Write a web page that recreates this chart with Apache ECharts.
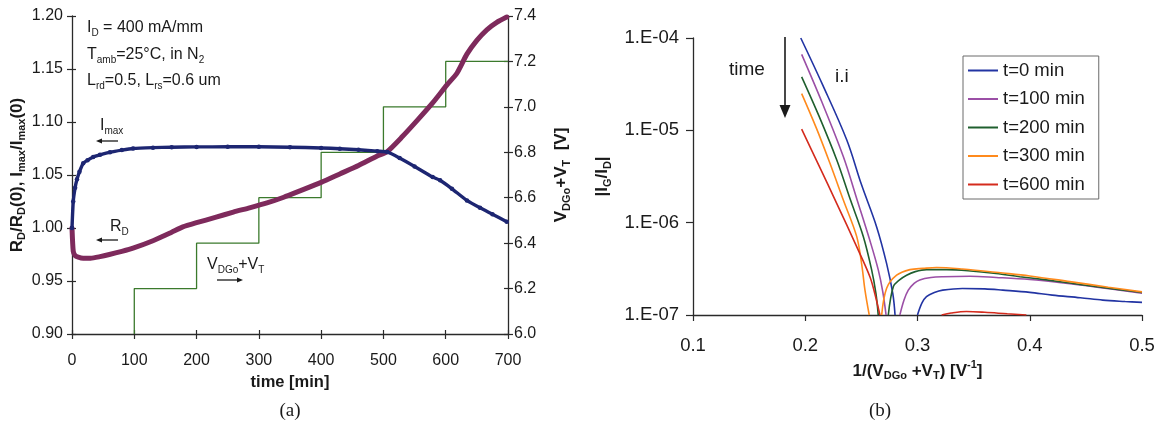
<!DOCTYPE html>
<html>
<head>
<meta charset="utf-8">
<script src="https://cdn.jsdelivr.net/npm/echarts@6/dist/echarts.min.js"></script>
<style>
  html, body { margin: 0; padding: 0; background: #fff; }
  #c { width: 1171px; height: 435px; }
</style>
</head>
<body>
<div id="c"></div>
<script>
// ---------- (a) stress test: normalised R_D and I_max versus time ----------
const imaxTime  = [0, 2, 5, 8, 12, 18, 25, 34, 45, 61, 80, 98, 130, 160, 200, 250, 300, 350, 400, 430, 460, 490, 506, 526, 550, 579, 591, 610, 634, 655, 675, 698];
const imaxRatio = [1.000, 1.025, 1.038, 1.046, 1.053, 1.061, 1.064, 1.067, 1.069, 1.0715, 1.0735, 1.075, 1.0758, 1.0762, 1.0765, 1.0766, 1.0766, 1.0762, 1.0755, 1.0748, 1.0738, 1.0725, 1.0717, 1.066, 1.058, 1.048, 1.045, 1.037, 1.026, 1.019, 1.013, 1.006];

const rdTime  = [0, 2, 5, 10, 18, 30, 45, 60, 80, 98, 130, 160, 178, 200, 230, 259, 285, 313, 340, 366, 400, 430, 460, 490, 506, 530, 555, 579, 602, 618, 634, 650, 666, 682, 698];
const rdRatio = [1.000, 0.978, 0.974, 0.9725, 0.9715, 0.9715, 0.973, 0.975, 0.978, 0.981, 0.988, 0.996, 1.001, 1.005, 1.010, 1.015, 1.019, 1.0236, 1.029, 1.035, 1.043, 1.051, 1.059, 1.068, 1.072, 1.086, 1.102, 1.118, 1.135, 1.146, 1.164, 1.177, 1.187, 1.194, 1.199];

// stepped gate-drain voltage: each level is reached at the listed time and held until the next one
const stepTime = [100, 200, 300, 400, 500, 600, 700];
const stepVolt = [6.0, 6.2, 6.4, 6.6, 6.8, 7.0, 7.2];

// ---------- (b) |I_G/I_D| versus 1/(V_DGo+V_T); null separates the two branches ----------
const t0X = [0.196, 0.215, 0.237, 0.250, 0.2636, 0.2725, 0.278, 0.280, null, 0.300, 0.304, 0.308, 0.315, 0.3225, 0.340, 0.360, 0.376, 0.400, 0.420, 0.445, 0.465, 0.485, 0.500];
const t0Y = [1.0e-4, 3.2e-5, 7.85e-6, 2.6e-6, 9.0e-7, 3.6e-7, 1.7e-7, 1.0e-7, null, 1.0e-7, 1.35e-7, 1.58e-7, 1.75e-7, 1.86e-7, 1.94e-7, 1.92e-7, 1.86e-7, 1.76e-7, 1.64e-7, 1.54e-7, 1.45e-7, 1.40e-7, 1.37e-7];

const t100X = [0.1968, 0.215, 0.2339, 0.2465, 0.2576, 0.265, 0.269, 0.272, null, 0.2843, 0.288, 0.2918, 0.297, 0.302, 0.312, 0.3227, 0.3467, 0.370, 0.400, 0.430, 0.460, 0.500];
const t100Y = [6.65e-5, 2.0e-5, 5.2e-6, 1.72e-6, 6.4e-7, 3.1e-7, 1.8e-7, 1.0e-7, null, 1.0e-7, 1.45e-7, 1.86e-7, 2.2e-7, 2.4e-7, 2.55e-7, 2.6e-7, 2.63e-7, 2.55e-7, 2.42e-7, 2.22e-7, 2.0e-7, 1.72e-7];

const t200X = [0.1968, 0.212, 0.228, 0.240, 0.2517, 0.2591, 0.263, 0.265, null, 0.274, 0.2785, 0.284, 0.2903, 0.298, 0.308, 0.326, 0.345, 0.370, 0.391, 0.415, 0.4357, 0.460, 0.480, 0.500];
const t200Y = [3.8e-5, 1.45e-5, 4.8e-6, 1.8e-6, 7.1e-7, 3.1e-7, 1.7e-7, 1.0e-7, null, 1.0e-7, 2.03e-7, 2.4e-7, 2.7e-7, 2.95e-7, 3.1e-7, 3.1e-7, 3.02e-7, 2.82e-7, 2.6e-7, 2.4e-7, 2.22e-7, 2.02e-7, 1.88e-7, 1.75e-7];

const t300X = [0.1968, 0.210, 0.222, 0.234, 0.2458, 0.2502, 0.2532, 0.257, null, 0.2681, 0.2725, 0.2814, 0.2933, 0.305, 0.317, 0.340, 0.376, 0.400, 0.4357, 0.470, 0.500];
const t300Y = [2.5e-5, 1.05e-5, 4.4e-6, 1.75e-6, 7.1e-7, 3.6e-7, 1.86e-7, 1.0e-7, null, 1.0e-7, 1.95e-7, 2.7e-7, 3.1e-7, 3.2e-7, 3.27e-7, 3.15e-7, 2.85e-7, 2.65e-7, 2.3e-7, 2.0e-7, 1.78e-7];

const t600X = [0.1968, 0.212, 0.228, 0.2458, 0.2576, 0.262, 0.2665, null, 0.3215, 0.330, 0.3436, 0.360, 0.380, 0.397];
const t600Y = [1.03e-5, 4.2e-6, 1.62e-6, 5.5e-7, 2.6e-7, 1.7e-7, 1.0e-7, null, 1.0e-7, 1.05e-7, 1.09e-7, 1.07e-7, 1.03e-7, 1.0e-7];

const curveNames = ['t=0 min', 't=100 min', 't=200 min', 't=300 min', 't=600 min'];
const xTicksA = [0, 700, 100];
const yTicksLeft = [0.90, 1.20, 0.05];
const yTicksRight = [6.0, 7.4, 0.2];
const xTicksB = [0.1, 0.5, 0.1];
const yLogRange = [1e-7, 1e-4];

// ---------- helpers ----------
const FONT = '"Liberation Sans", Arial, sans-serif';
const INK = '#1a1a1a';
const AXIS = '#2a2a2a';

function pairs(xs, ys) {
  return xs.map((x, i) => (ys[i] === null || x === null) ? ['-', '-'] : [x, ys[i]]);
}

function richSet(size, weight) {
  return {
    n: { fontSize: size, fontFamily: FONT, fontWeight: weight, color: INK, lineHeight: Math.round(size * 1.3), verticalAlign: 'middle' },
    s: { fontSize: Math.round(size * 0.64), fontFamily: FONT, fontWeight: weight, color: INK, lineHeight: Math.round(size * 0.64), verticalAlign: 'bottom' },
    u: { fontSize: Math.round(size * 0.64), fontFamily: FONT, fontWeight: weight, color: INK, lineHeight: Math.round(size * 0.64), verticalAlign: 'top' }
  };
}

function label(text, x, y, size, weight, extra) {
  return Object.assign({
    type: 'text', x: x, y: y, silent: true,
    style: { text: text, rich: richSet(size, weight || 'normal'), align: 'left', verticalAlign: 'middle', fill: INK }
  }, extra || {});
}

function arrow(x1, y1, x2, y2, head, width) {
  const a = Math.atan2(y2 - y1, x2 - x1);
  const bx = x2 - head * Math.cos(a), by = y2 - head * Math.sin(a);
  const px = -Math.sin(a) * head * 0.42, py = Math.cos(a) * head * 0.42;
  return [
    { type: 'line', silent: true, shape: { x1: x1, y1: y1, x2: bx, y2: by }, style: { stroke: INK, lineWidth: width } },
    { type: 'polygon', silent: true, shape: { points: [[x2, y2], [bx + px, by + py], [bx - px, by - py]] }, style: { fill: INK } }
  ];
}

const tickLabelA = { fontFamily: FONT, fontSize: 16, color: INK };
const tickLabelB = { fontFamily: FONT, fontSize: 18.5, color: INK };
const axisLine = { show: true, onZero: false, lineStyle: { color: AXIS, width: 1.3 } };

function innerTicks(base) {
  // companion axis drawing the inward half of the crossing tick marks
  return Object.assign({
    axisLine: { show: false, onZero: false }, axisLabel: { show: false }, splitLine: { show: false },
    axisTick: { show: true, inside: true, length: 4, lineStyle: { color: AXIS, width: 1.2 } }
  }, base);
}

const chart = echarts.init(document.getElementById('c'), null, { renderer: 'canvas' });

const option = {
  backgroundColor: '#ffffff',
  animation: false,
  grid: [
    { left: 72, top: 16, width: 436, height: 318 },
    { left: 693, top: 38, width: 449, height: 277 }
  ],
  legend: {
    data: curveNames,
    orient: 'vertical',
    left: 963, top: 56,
    padding: [5, 14, 5, 5],
    itemWidth: 30, itemHeight: 2, itemGap: 9.5,
    icon: 'rect',
    borderColor: '#6a6a6a', borderWidth: 1,
    textStyle: { fontFamily: FONT, fontSize: 18.5, color: INK, lineHeight: 19 }
  },
  xAxis: [
    {
      gridIndex: 0, type: 'value', position: 'bottom', min: xTicksA[0], max: xTicksA[1], interval: xTicksA[2],
      axisLine: axisLine,
      axisTick: { show: true, length: 5, lineStyle: { color: AXIS, width: 1.2 } },
      axisLabel: Object.assign({ margin: 19 }, tickLabelA),
      splitLine: { show: false },
      name: 'time [min]', nameLocation: 'middle', nameGap: 39,
      nameTextStyle: { fontFamily: FONT, fontSize: 16.5, fontWeight: 'bold', color: INK }
    },
    {
      gridIndex: 1, type: 'value', position: 'bottom', min: xTicksB[0], max: xTicksB[1], interval: xTicksB[2],
      axisLine: axisLine,
      axisTick: { show: true, length: 6, lineStyle: { color: AXIS, width: 1.2 } },
      axisLabel: Object.assign({ margin: 21, formatter: v => v.toFixed(1) }, tickLabelB),
      splitLine: { show: false },
      name: '{n|1/(V}{s|DGo}{n| +V}{s|T}{n|) [V}{u|-1}{n|]}', nameLocation: 'middle', nameGap: 43,
      nameTextStyle: { rich: richSet(17, 'bold') }
    },
    innerTicks({ gridIndex: 0, type: 'value', position: 'bottom', min: xTicksA[0], max: xTicksA[1], interval: xTicksA[2] })
  ],
  yAxis: [
    {
      gridIndex: 0, type: 'value', position: 'left', min: yTicksLeft[0], max: yTicksLeft[1], interval: yTicksLeft[2],
      axisLine: axisLine,
      axisTick: { show: true, length: 5, lineStyle: { color: AXIS, width: 1.2 } },
      axisLabel: Object.assign({ margin: 9, formatter: v => v.toFixed(2) }, tickLabelA),
      splitLine: { show: false },
      name: '{n|R}{s|D}{n|/R}{s|D}{n|(0), I}{s|max}{n|/I}{s|max}{n|(0)}',
      nameLocation: 'middle', nameRotate: 90, nameGap: 42,
      nameTextStyle: { rich: richSet(17, 'bold') }
    },
    {
      gridIndex: 0, type: 'value', position: 'right', min: yTicksRight[0], max: yTicksRight[1], interval: yTicksRight[2],
      axisLine: axisLine,
      axisTick: { show: true, length: 5, lineStyle: { color: AXIS, width: 1.2 } },
      axisLabel: Object.assign({ margin: 6, formatter: v => v.toFixed(1) }, tickLabelA),
      splitLine: { show: false },
      name: '{n|V}{s|DGo}{n|+V}{s|T}{n|  [V]}',
      nameLocation: 'middle', nameRotate: 90, nameGap: 42,
      nameTextStyle: { rich: richSet(17, 'bold') }
    },
    {
      gridIndex: 1, type: 'log', logBase: 10, min: yLogRange[0], max: yLogRange[1],
      axisLine: axisLine,
      axisTick: { show: true, length: 7, lineStyle: { color: AXIS, width: 1.2 } },
      minorTick: { show: false },
      axisLabel: Object.assign({ margin: 14, formatter: v => '1.E-0' + Math.round(-Math.log10(v)) }, tickLabelB),
      splitLine: { show: false },
      name: '{n||I}{s|G}{n|/I}{s|D}{n||}',
      nameLocation: 'middle', nameRotate: 90, nameGap: 80,
      nameTextStyle: { rich: richSet(17, 'bold') }
    },
    innerTicks({ gridIndex: 0, type: 'value', position: 'left', min: yTicksLeft[0], max: yTicksLeft[1], interval: yTicksLeft[2] }),
    innerTicks({ gridIndex: 0, type: 'value', position: 'right', min: yTicksRight[0], max: yTicksRight[1], interval: yTicksRight[2] })
  ],
  series: [
    {
      name: 'VDGo+VT', type: 'line', xAxisIndex: 0, yAxisIndex: 1, step: 'start',
      data: pairs(stepTime, stepVolt), symbol: 'none',
      lineStyle: { color: '#3b7a2c', width: 1.3 }, z: 2
    },
    {
      name: 'RD', type: 'line', xAxisIndex: 0, yAxisIndex: 0,
      data: pairs(rdTime, rdRatio), symbol: 'none', smooth: 0.2,
      lineStyle: { color: '#7e2a5c', width: 5, cap: 'round', join: 'round' }, z: 3
    },
    {
      name: 'Imax', type: 'line', xAxisIndex: 0, yAxisIndex: 0,
      data: pairs(imaxTime, imaxRatio), symbol: 'circle', symbolSize: 4.5, smooth: 0.2,
      itemStyle: { color: '#1d2672' },
      lineStyle: { color: '#1d2672', width: 3.4, cap: 'round', join: 'round' }, z: 4
    },
    { name: curveNames[0], type: 'line', xAxisIndex: 1, yAxisIndex: 2, data: pairs(t0X, t0Y), symbol: 'none', smooth: 0.35, color: '#2234a3', lineStyle: { width: 1.6 } },
    { name: curveNames[1], type: 'line', xAxisIndex: 1, yAxisIndex: 2, data: pairs(t100X, t100Y), symbol: 'none', smooth: 0.35, color: '#9b4fa6', lineStyle: { width: 1.6 } },
    { name: curveNames[2], type: 'line', xAxisIndex: 1, yAxisIndex: 2, data: pairs(t200X, t200Y), symbol: 'none', smooth: 0.35, color: '#1f5f2e', lineStyle: { width: 1.6 } },
    { name: curveNames[3], type: 'line', xAxisIndex: 1, yAxisIndex: 2, data: pairs(t300X, t300Y), symbol: 'none', smooth: 0.35, color: '#ff8a1c', lineStyle: { width: 1.6 } },
    { name: curveNames[4], type: 'line', xAxisIndex: 1, yAxisIndex: 2, data: pairs(t600X, t600Y), symbol: 'none', smooth: 0.35, color: '#d42b1d', lineStyle: { width: 1.6 } }
  ],
  graphic: [].concat(
    // stress conditions
    label('{n|I}{s|D}{n| = 400 mA/mm}', 87, 28, 16),
    label('{n|T}{s|amb}{n|=25°C, in N}{s|2}', 87, 55, 16),
    label('{n|L}{s|rd}{n|=0.5, L}{s|rs}{n|=0.6 um}', 87, 81, 16),
    // curve tags with axis pointers
    label('{n|I}{s|max}', 100, 126, 16),
    arrow(118, 141, 96, 141, 6, 1.3),
    label('{n|R}{s|D}', 110, 227, 16),
    arrow(118, 240, 96, 240, 6, 1.3),
    label('{n|V}{s|DGo}{n|+V}{s|T}', 207, 265, 16),
    arrow(217, 280, 243, 280, 6, 1.3),
    // (b) annotations
    label('{n|time}', 729, 70, 19),
    arrow(785, 37, 785, 118, 13, 1.6),
    label('{n|i.i}', 835, 77, 19),
    // panel captions
    [{ type: 'text', x: 290, y: 411, silent: true, style: { text: '(a)', font: '19px "Liberation Serif", "DejaVu Serif", serif', fill: INK, align: 'center', verticalAlign: 'middle' } }],
    [{ type: 'text', x: 880, y: 411, silent: true, style: { text: '(b)', font: '19px "Liberation Serif", "DejaVu Serif", serif', fill: INK, align: 'center', verticalAlign: 'middle' } }]
  )
};

chart.setOption(option);
</script>
</body>
</html>
